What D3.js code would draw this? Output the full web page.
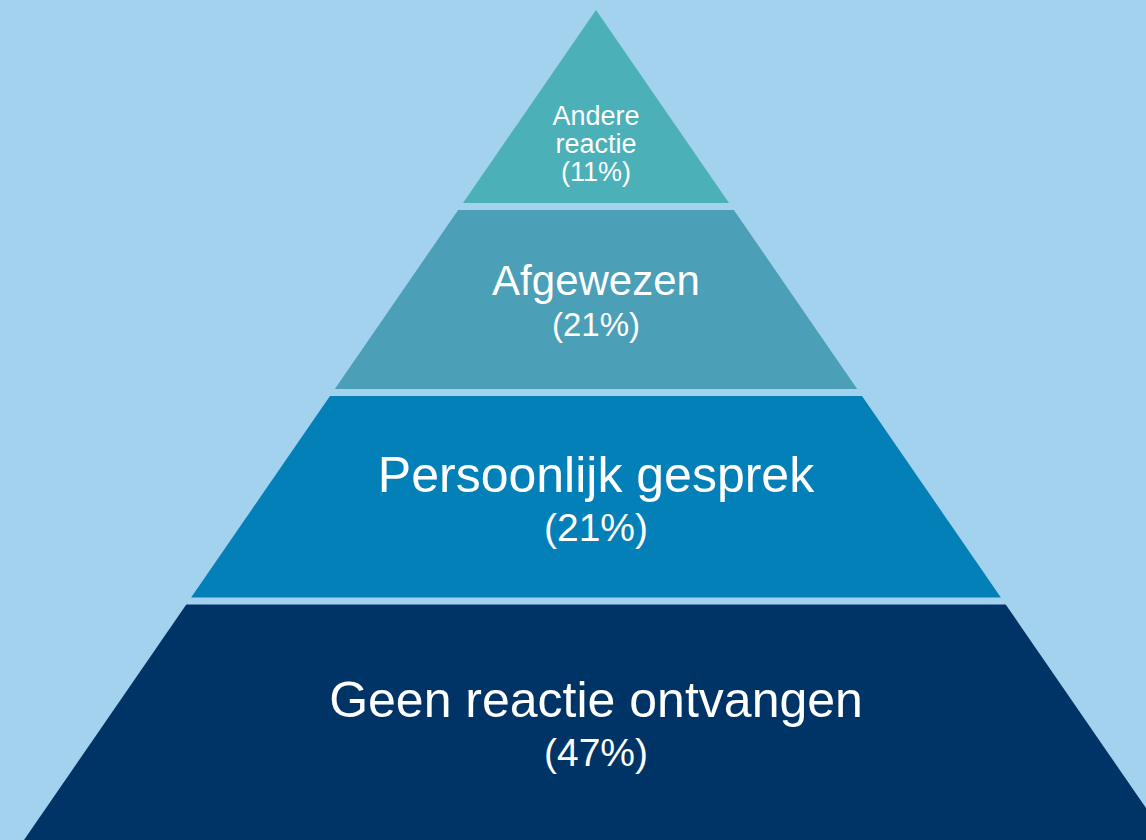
<!DOCTYPE html>
<html>
<head>
<meta charset="utf-8">
<script src="https://cdn.jsdelivr.net/npm/d3@7"></script>
<style>
  html, body { margin: 0; padding: 0; background: #A2D2EE; }
  svg { display: block; }
  text { font-family: "Liberation Sans", Arial, sans-serif; fill: #ffffff; }
</style>
</head>
<body>
<div id="chart"></div>
<script>
// levels of the pyramid, top to bottom
var levels = ["top", "second", "third", "base"];
var labels = [["Andere", "reactie"], ["Afgewezen"], ["Persoonlijk gesprek"], ["Geen reactie ontvangen"]];
var percents = [11, 21, 21, 47];

// styling per level
var colors = ["#4BB0B7", "#4B9FB6", "#0380B8", "#003466"];
var labelSize = [27, 42, 50, 50];
var pctSize = [27, 33, 39, 39];

var width = 1146, height = 840;
var centerX = 596;
var gap = 7;

var svg = d3.select("#chart").append("svg")
  .attr("width", width)
  .attr("height", height);

svg.append("rect")
  .attr("width", width)
  .attr("height", height)
  .attr("fill", "#A2D2EE");

// level boundaries (piecewise) -> vertical position
var yScale = d3.scaleLinear()
  .domain([0, 1, 2, 3, 4])
  .range([10, 206.5, 392.5, 601, 840]);

// half width of the pyramid at a given y
var halfWidth = d3.scaleLinear()
  .domain([10, 840])
  .range([0, 572]);

levels.forEach(function (lvl, i) {
  var top = yScale(i) + (i == 0 ? 0 : gap / 2);
  var bottom = yScale(i + 1) - (i == levels.length - 1 ? 0 : gap / 2);

  var pts = [
    [centerX - halfWidth(top), top],
    [centerX + halfWidth(top), top],
    [centerX + halfWidth(bottom), bottom],
    [centerX - halfWidth(bottom), bottom]
  ];

  svg.append("polygon")
    .attr("points", pts.map(function (p) { return p.join(","); }).join(" "))
    .attr("fill", colors[i]);

  var g = svg.append("g").attr("text-anchor", "middle");

  if (i == 0) {
    // apex triangle: three small lines
    var cy = top + 0.69 * (bottom - top);
    var lines = labels[i].concat(["(" + percents[i] + "%)"]);
    var mid = cy + 0.35 * labelSize[i];
    lines.forEach(function (t, k) {
      g.append("text")
        .attr("x", centerX)
        .attr("y", mid + (k - 1) * 28)
        .style("font-size", labelSize[i] + "px")
        .text(t);
    });
  } else {
    var cy2 = (top + bottom) / 2;
    var base1 = cy2 - 0.1 * labelSize[i];
    g.append("text")
      .attr("x", centerX)
      .attr("y", base1)
      .style("font-size", labelSize[i] + "px")
      .text(labels[i][0]);
    g.append("text")
      .attr("x", centerX)
      .attr("y", base1 + 0.98 * labelSize[i])
      .style("font-size", pctSize[i] + "px")
      .text("(" + percents[i] + "%)");
  }
});
</script>
</body>
</html>
